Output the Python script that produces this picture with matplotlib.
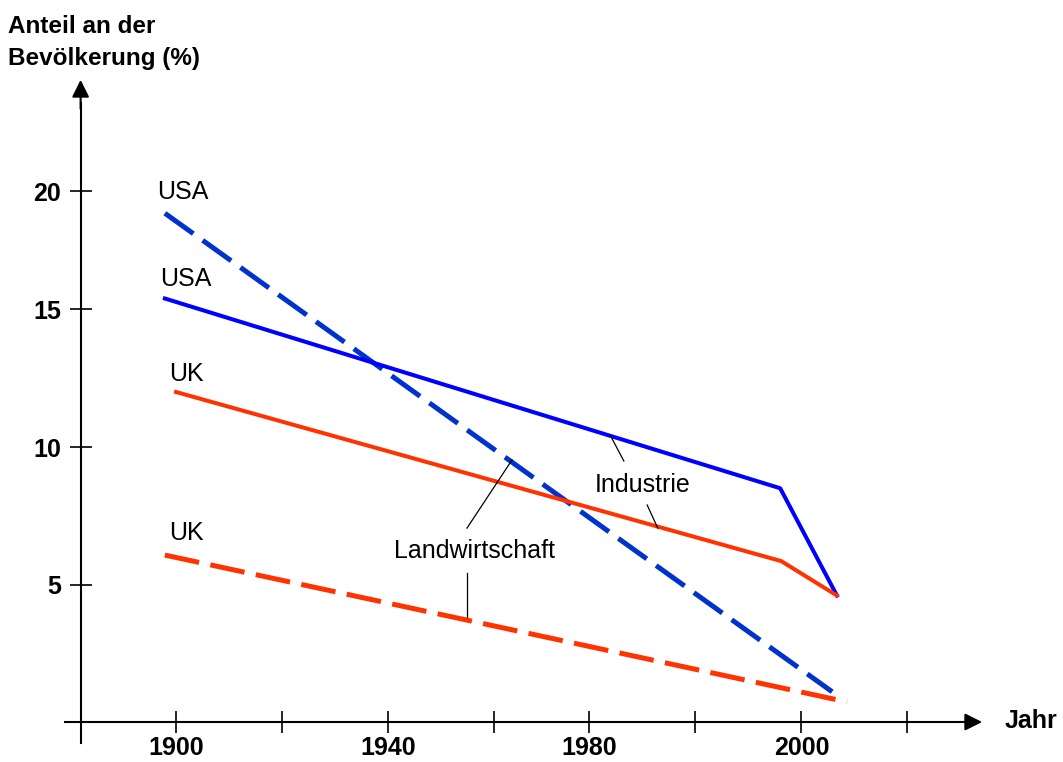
import matplotlib
matplotlib.use("Agg")
import matplotlib.pyplot as plt

plt.rcParams["font.family"] = ["Liberation Sans", "DejaVu Sans"]

# data (schematic chart, x in "axis years", y in percent)
usa_agri_x = [1897.9, 2023.8]
usa_agri_y = [18.5, 1.1]
usa_ind_x = [1897.9, 2014.0, 2024.7]
usa_ind_y = [15.4, 8.5, 4.6]
uk_ind_x = [1900.0, 2014.2, 2024.7]
uk_ind_y = [12.0, 5.85, 4.6]
uk_agri_x = [1897.9, 2026.6]
uk_agri_y = [6.07, 0.73]

xtick_pos = [1900, 1920, 1940, 1960, 1978, 1998, 2018, 2038]
xtick_labels = ["1900", "", "1940", "", "1980", "", "2000", ""]
ytick_pos = [5, 10, 15, 19.3]
ytick_labels = ["5", "10", "15", "20"]

blue = "#0000ff"
blue_dash = "#0033cc"
red = "#ff3300"

fig = plt.figure(figsize=(10.63, 7.62), dpi=100)
ax = fig.add_axes([0, 0, 1, 1])
ax.set_xlim(1866.79, 2067.36)
ax.set_ylim(-1.4545, 26.2545)

ax.plot(usa_agri_x, usa_agri_y, color=blue_dash, lw=3.6, dashes=(7, 2.3),
        dash_capstyle="butt")
ax.plot(usa_ind_x, usa_ind_y, color=blue, lw=2.9)
ax.plot(uk_ind_x, uk_ind_y, color=red, lw=2.9)
ax.plot(uk_agri_x, uk_agri_y, color=red, lw=3.6, dashes=(7, 2.3),
        dash_capstyle="butt")

# axes as arrows
for side in ["top", "right"]:
    ax.spines[side].set_visible(False)
ax.spines["left"].set_position(("data", 1882.0))
ax.spines["bottom"].set_position(("data", 0))
ax.spines["left"].set_bounds(-0.76, 22.5)
ax.spines["bottom"].set_bounds(1879.1, 2049.5)
ax.spines["left"].set_linewidth(1.5)
ax.spines["bottom"].set_linewidth(1.5)
ax.annotate("", xy=(1882.0, 23.35), xytext=(1882.0, 22.3),
            arrowprops=dict(arrowstyle="-|>", color="black", lw=1.5,
                            mutation_scale=26, shrinkA=0, shrinkB=0))
ax.annotate("", xy=(2052.1, 0), xytext=(2049.0, 0),
            arrowprops=dict(arrowstyle="-|>", color="black", lw=1.5,
                            mutation_scale=26, shrinkA=0, shrinkB=0))

ax.set_xticks(xtick_pos)
ax.set_xticklabels(xtick_labels, fontsize=18, fontweight="bold")
ax.set_yticks(ytick_pos)
ax.set_yticklabels(ytick_labels, fontsize=18, fontweight="bold")
ax.tick_params(direction="inout", length=16, width=1.2, pad=2)
ax.tick_params(axis="y", pad=6)

# series labels
ax.text(1896.4, 19.27, "USA", fontsize=18, ha="left", va="center")
ax.text(1897.0, 16.11, "USA", fontsize=18, ha="left", va="center")
ax.text(1898.7, 12.65, "UK", fontsize=18, ha="left", va="center")
ax.text(1898.7, 6.87, "UK", fontsize=18, ha="left", va="center")

ax.text(1988.1, 8.62, "Industrie", fontsize=18, ha="center", va="center")
ax.text(1956.4, 6.22, "Landwirtschaft", fontsize=18, ha="center", va="center")
leaders = [
    ([1981.9, 1984.5], [10.44, 9.49]),
    ([1988.9, 1990.9], [7.89, 7.05]),
    ([1963.4, 1954.9], [9.53, 7.05]),
    ([1954.9, 1954.9], [5.42, 3.82]),
]
for lx, ly in leaders:
    ax.plot(lx, ly, color="black", lw=0.9)

fig.text(8 / 1063, 1 - 15 / 762, "Anteil an der\nBevölkerung (%)",
         fontsize=17.5, fontweight="bold", ha="left", va="top", linespacing=1.5)
ax.text(2056.4, 0.05, "Jahr", fontsize=18, fontweight="bold", ha="left", va="center")

fig.savefig("out.png", dpi=100)
